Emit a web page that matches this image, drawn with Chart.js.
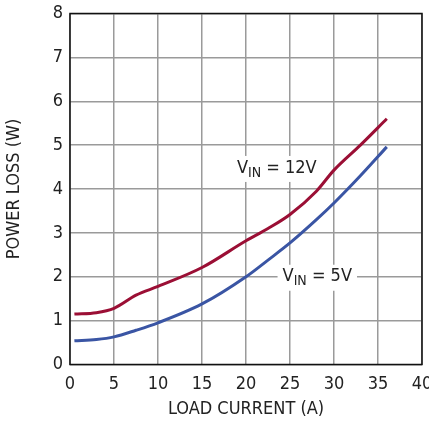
<!DOCTYPE html>
<html>
<head>
<meta charset="utf-8">
<script src="https://cdn.jsdelivr.net/npm/chart.js@4"></script>
<style>
  html, body { margin: 0; padding: 0; background: #fff; }
  #wrap { width: 429px; height: 424px; }
</style>
</head>
<body>
<div id="wrap"><canvas id="myChart"></canvas></div>
<script>
const FONT = "'Liberation Sans Narrow', 'Arial Narrow', 'DejaVu Sans Condensed', sans-serif";

const LOAD_CURRENT = [0.5, 3, 5, 7.5, 10, 15, 20, 22.5, 25, 28, 30, 33, 36];
const LOSS_12V = [1.15, 1.18, 1.28, 1.58, 1.78, 2.21, 2.82, 3.1, 3.42, 3.95, 4.43, 5.0, 5.6];
const LOSS_5V = [0.54, 0.57, 0.63, 0.78, 0.95, 1.38, 2.0, 2.38, 2.77, 3.3, 3.68, 4.3, 4.96];

const RED = '#9b0f35';
const BLUE = '#3a55a4';

function pts(ys) {
    return LOAD_CURRENT.map((x, i) => ({ x: x, y: ys[i] }));
}

// frame round the plot and the two curve labels
const extras = {
    id: 'extras',
    afterDatasetsDraw(chart) {
        const c = chart.ctx;
        const a = chart.chartArea;
        const xs = chart.scales.x, ys = chart.scales.y;
        c.save();
        c.strokeStyle = '#111';
        c.lineWidth = 1.5;
        c.strokeRect(a.left, a.top, a.right - a.left, a.bottom - a.top);

        function label(xv, yv, big, tail) {
            const px = xs.getPixelForValue(xv), py = ys.getPixelForValue(yv);
            c.font = '18px ' + FONT;
            const w1 = c.measureText(big).width;
            c.font = '14px ' + FONT;
            const w2 = c.measureText('IN').width;
            c.font = '18px ' + FONT;
            const w3 = c.measureText(tail).width;
            const w = w1 + w2 + w3;
            c.fillStyle = '#fff';
            c.fillRect(px - w / 2 - 5, py - 12, w + 10, 26);
            c.fillStyle = '#222';
            c.textBaseline = 'middle';
            c.textAlign = 'left';
            let x0 = px - w / 2;
            c.fillText(big, x0, py);
            c.font = '14px ' + FONT;
            c.fillText('IN', x0 + w1, py + 5);
            c.font = '18px ' + FONT;
            c.fillText(tail, x0 + w1 + w2, py);
        }
        label(23.5, 4.48, 'V', ' = 12V');
        label(28.1, 2.0, 'V', ' = 5V');
        c.restore();
    }
};

const ctx = document.querySelector('#myChart');

new Chart(ctx, {
    type: 'line',
    data: {
        datasets: [
            { label: 'VIN = 12V', data: pts(LOSS_12V), borderColor: RED, borderWidth: 3, pointRadius: 0, cubicInterpolationMode: 'monotone', fill: false },
            { label: 'VIN = 5V', data: pts(LOSS_5V), borderColor: BLUE, borderWidth: 3, pointRadius: 0, cubicInterpolationMode: 'monotone', fill: false }
        ]
    },
    options: {
        responsive: true,
        maintainAspectRatio: false,
        animation: false,
        layout: { padding: { top: 13.5, right: 7, left: 0, bottom: 0 } },
        plugins: {
            legend: { display: false },
            tooltip: { enabled: false }
        },
        scales: {
            x: {
                type: 'linear',
                min: 0, max: 40,
                ticks: { stepSize: 5, color: '#222', font: { family: FONT, size: 18 }, padding: 9, maxRotation: 0 },
                grid: { color: '#9a9a9a', lineWidth: 1.5, drawTicks: false },
                border: { display: false },
                title: { display: true, text: 'LOAD CURRENT (A)', color: '#222', font: { family: FONT, size: 18 }, padding: { top: 4 } },
                afterFit(s) { s.height = 59.5; s.paddingLeft = 0; s.paddingRight = 0; }
            },
            y: {
                min: 0, max: 8,
                ticks: { stepSize: 1, color: '#222', font: { family: FONT, size: 18 }, padding: 7 },
                grid: { color: '#9a9a9a', lineWidth: 1.5, drawTicks: false },
                border: { display: false },
                title: { display: true, text: 'POWER LOSS (W)', color: '#222', font: { family: FONT, size: 18 }, padding: { top: 4, bottom: 10 } },
                afterFit(s) { s.width = 70; s.paddingTop = 0; s.paddingBottom = 0; }
            }
        }
    },
    plugins: [extras]
});
</script>
</body>
</html>
